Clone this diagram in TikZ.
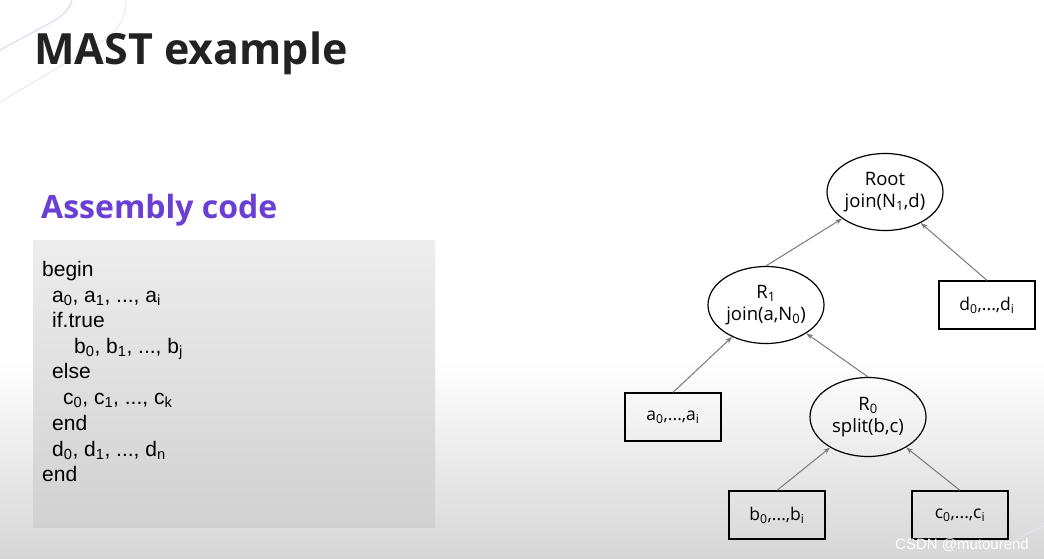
\documentclass[tikz,border=0pt]{standalone}
\usepackage{fontspec}
\setmainfont{Open Sans}
\newfontfamily\codefont{Liberation Sans}
\usetikzlibrary{shapes.geometric,arrows.meta}
\definecolor{titlecol}{HTML}{222222}
\definecolor{purp}{HTML}{6B3FD3}
\definecolor{edgecol}{HTML}{7A7A7A}
\definecolor{lav}{HTML}{D9D6F2}
\tikzset{
  opnode/.style={ellipse,draw=black,line width=1.2pt,minimum width=116pt,minimum height=77pt,inner sep=0pt,align=center,font=\fontsize{18.5}{22}\selectfont},
  leaf/.style={rectangle,draw=black,line width=1.2pt,minimum width=96pt,minimum height=48pt,inner sep=0pt,font=\fontsize{17.5}{21}\selectfont},
  edge/.style={draw=edgecol,line width=1pt,-{Stealth[length=7pt,width=5pt]}},
  codeline/.style={anchor=base west,inner sep=0pt,font=\codefont\fontsize{21}{25}\selectfont}
}
\begin{document}
\begin{tikzpicture}[x=1pt,y=-1pt]
\useasboundingbox (0,0) rectangle (1044,559);
% background
\fill[white] (0,0) rectangle (1044,360);
\shade[top color=white,bottom color=black!16] (0,359) rectangle (1044,559);
% decorative lines
\draw[lav,line width=1pt] (0,50) -- (52,22) .. controls (64,15) and (70,8) .. (72,0);
\draw[lav!70,line width=0.8pt] (0,102) -- (98,44) .. controls (118,32) and (126,18) .. (126,0);
\draw[lav!60,line width=0.8pt] (1008,545) .. controls (1022,536) and (1034,530) .. (1044,526);
% title
\node[anchor=base west,inner sep=0pt,text=titlecol,font=\bfseries\fontsize{43}{48}\selectfont] (title) at (34,65) {MAST example};
\node[anchor=base west,inner sep=0pt,text=purp,font=\bfseries\fontsize{32}{36}\selectfont] (sub) at (41,218) {Assembly code};
% code box
\shade[top color=black!7,bottom color=black!18] (33,240) rectangle (435,527);
\node[codeline] (l1) at (42,276) {begin};
\node[codeline] (l2) at (52,302) {a\textsubscript{0}, a\textsubscript{1}, ..., a\textsubscript{i}};
\node[codeline] (l3) at (52,327) {if.true};
\node[codeline] (l4) at (74,353) {b\textsubscript{0}, b\textsubscript{1}, ..., b\textsubscript{j}};
\node[codeline] (l5) at (52,378) {else};
\node[codeline] (l6) at (63,404) {c\textsubscript{0}, c\textsubscript{1}, ..., c\textsubscript{k}};
\node[codeline] (l7) at (52,430) {end};
\node[codeline] (l8) at (52,456) {d\textsubscript{0}, d\textsubscript{1}, ..., d\textsubscript{n}};
\node[codeline] (l9) at (42,481) {end};
% tree
\node[opnode] (root) at (885,192) {Root\\join(N\textsubscript{1},d)};
\node[opnode] (r1) at (766,305) {R\textsubscript{1}\\join(a,N\textsubscript{0})};
\node[leaf] (d) at (987,305) {d\textsubscript{0},...,d\textsubscript{i}};
\node[leaf] (a) at (673,417) {a\textsubscript{0},...,a\textsubscript{i}};
\node[opnode,minimum height=79pt] (r0) at (868,417) {R\textsubscript{0}\\split(b,c)};
\node[leaf] (b) at (777,515) {b\textsubscript{0},...,b\textsubscript{i}};
\node[leaf] (c) at (960,515) {c\textsubscript{0},...,c\textsubscript{i}};
\draw[edge] (r1.north) -- (root);
\draw[edge] (d.north) -- (root);
\draw[edge] (a.north) -- (r1);
\draw[edge] (r0.north) -- (r1);
\draw[edge] (b.north) -- (r0);
\draw[edge] (c.north) -- (r0);
% watermark
\node[anchor=base east,inner sep=0pt,text=white,font=\codefont\fontsize{15}{18}\selectfont] (wm) at (1029,549) {CSDN @mutourend};
\end{tikzpicture}
\end{document}
